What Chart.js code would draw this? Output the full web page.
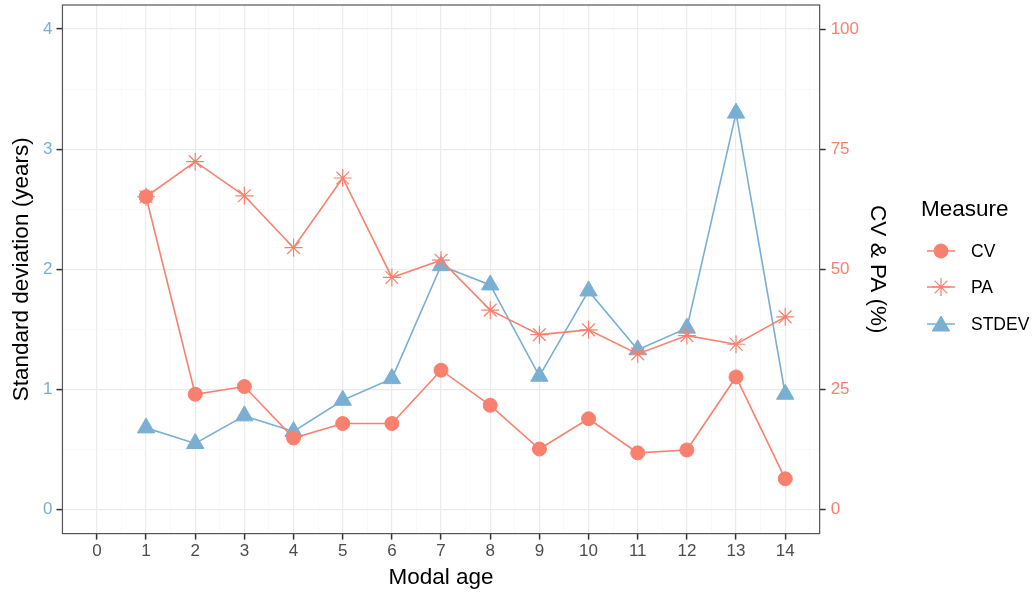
<!DOCTYPE html>
<html>
<head>
<meta charset="utf-8">
<script src="https://cdn.jsdelivr.net/npm/chart.js@4/dist/chart.umd.min.js"></script>
<style>
  html, body { margin: 0; padding: 0; background: #fff; }
  #wrap { width: 1034px; height: 593px; position: relative; }
</style>
</head>
<body>
<div id="wrap"><canvas id="js-line-chart"></canvas></div>
<script>
// Chart data
const ages = [1, 2, 3, 4, 5, 6, 7, 8, 9, 10, 11, 12, 13, 14];
const cvValues = [65.1, 24.0, 25.6, 14.9, 17.9, 17.9, 29.0, 21.7, 12.6, 18.9, 11.8, 12.4, 27.6, 6.4];
const paValues = [65.1, 72.4, 65.3, 54.5, 69.0, 48.3, 51.9, 41.5, 36.4, 37.4, 32.4, 36.2, 34.4, 40.1];
const stdevValues = [0.68, 0.55, 0.78, 0.65, 0.91, 1.09, 2.03, 1.87, 1.11, 1.82, 1.33, 1.51, 3.30, 0.96];

// Tick values (minor ones carry no label)
const xTicks = [0, 0.5, 1, 1.5, 2, 2.5, 3, 3.5, 4, 4.5, 5, 5.5, 6, 6.5, 7, 7.5, 8, 8.5, 9, 9.5, 10, 10.5, 11, 11.5, 12, 12.5, 13, 13.5, 14, 14.5];
const sdTicks = [0, 0.5, 1, 1.5, 2, 2.5, 3, 3.5, 4];
const pctTicks = [0, 25, 50, 75, 100];

// Colors
const salmon = '#F9806F';
const blue = '#7AAFD4';
const font = '"Liberation Sans", Arial, sans-serif';

const toPoints = values => values.map((v, i) => ({ x: ages[i], y: v }));
const isMajor = v => Number.isInteger(v);
const setTicks = list => axis => { axis.ticks = list.map(v => ({ value: v })); };
// labels sit well inside the panel, so no extra room is needed above/below
const noPad = axis => { axis.paddingTop = 0; axis.paddingBottom = 0; };

const gridColor = ctx => (ctx.tick && isMajor(ctx.tick.value) ? '#EBEBEB' : '#F6F6F6');
const gridWidth = ctx => (ctx.tick && isMajor(ctx.tick.value) ? 1.2 : 0.7);
const tickColor = ctx => (ctx.tick && isMajor(ctx.tick.value) ? '#333333' : 'rgba(0,0,0,0)');

// Panel border drawn over the plot, plus a ggplot-like legend at the right
const panelAndLegend = {
  id: 'panelAndLegend',
  afterDraw(chart) {
    const { ctx, chartArea } = chart;
    ctx.save();
    ctx.strokeStyle = '#555555';
    ctx.lineWidth = 1.2;
    ctx.strokeRect(chartArea.left, chartArea.top, chartArea.right - chartArea.left, chartArea.bottom - chartArea.top);

    ctx.fillStyle = '#000';
    ctx.textBaseline = 'middle';
    ctx.textAlign = 'left';
    ctx.font = '22.5px ' + font;
    ctx.fillText('Measure', 921, 210);

    const entries = [
      { label: 'CV', color: salmon, style: 'circle', radius: 7, width: 1, y: 251 },
      { label: 'PA', color: salmon, style: 'star', radius: 9, width: 1.2, y: 287 },
      { label: 'STDEV', color: blue, style: 'triangle', radius: 10, width: 1, y: 324 },
    ];
    entries.forEach(e => {
      ctx.strokeStyle = e.color;
      ctx.lineWidth = 1.5;
      ctx.beginPath();
      ctx.moveTo(927, e.y);
      ctx.lineTo(955, e.y);
      ctx.stroke();
      ctx.fillStyle = e.color;
      ctx.strokeStyle = e.color;
      ctx.lineWidth = e.width;
      Chart.helpers.drawPoint(ctx, { pointStyle: e.style, radius: e.radius, borderWidth: e.width, rotation: 0 }, 941, e.style === 'triangle' ? e.y + 2 : e.y);
      ctx.fillStyle = '#000';
      ctx.font = '17.5px ' + font;
      ctx.fillText(e.label, 971, e.y + 1);
    });
    ctx.restore();
  },
};

const lineContext = document.getElementById('js-line-chart').getContext('2d');

const config = {
  type: 'line',
  data: {
    datasets: [
      {
        label: 'CV',
        data: toPoints(cvValues),
        yAxisID: 'y1',
        borderColor: salmon,
        backgroundColor: salmon,
        borderWidth: 1.6,
        pointStyle: 'circle',
        pointRadius: 7,
        pointBorderWidth: 1,
      },
      {
        label: 'PA',
        data: toPoints(paValues),
        yAxisID: 'y1',
        borderColor: salmon,
        backgroundColor: salmon,
        borderWidth: 1.6,
        pointStyle: 'star',
        pointRadius: 9,
        pointBorderWidth: 1.2,
      },
      {
        label: 'STDEV',
        data: toPoints(stdevValues),
        yAxisID: 'y',
        borderColor: blue,
        backgroundColor: blue,
        borderWidth: 1.6,
        pointStyle: 'triangle',
        pointRadius: 10,
        pointBorderWidth: 1,
      },
    ],
  },
  options: {
    responsive: true,
    maintainAspectRatio: false,
    animation: false,
    layout: { autoPadding: false, padding: { left: 8, right: 143, top: 5, bottom: 2 } },
    plugins: {
      legend: { display: false },
      tooltip: { enabled: false },
    },
    scales: {
      x: {
        type: 'linear',
        min: -0.7,
        max: 14.7,
        afterBuildTicks: setTicks(xTicks),
        border: { display: false },
        grid: { color: gridColor, lineWidth: gridWidth, tickColor: tickColor, tickLength: 6, tickWidth: 1.5 },
        ticks: {
          autoSkip: false,
          maxRotation: 0,
          padding: 2,
          color: '#4D4D4D',
          font: { family: font, size: 17 },
          callback: v => (isMajor(v) ? v : ''),
        },
        title: { display: true, text: 'Modal age', color: '#000', font: { family: font, size: 22.5 }, padding: { top: 0, bottom: 0 } },
      },
      y: {
        position: 'left',
        min: -0.2,
        max: 4.2,
        afterBuildTicks: setTicks(sdTicks),
        afterFit: noPad,
        border: { display: false },
        grid: { color: gridColor, lineWidth: gridWidth, tickColor: tickColor, tickLength: 6, tickWidth: 1.5 },
        ticks: {
          autoSkip: false,
          padding: 4,
          color: blue,
          font: { family: font, size: 17 },
          callback: v => (isMajor(v) ? v : ''),
        },
        title: { display: true, text: 'Standard deviation (years)', color: '#000', font: { family: font, size: 22.5 }, padding: { top: 0, bottom: 4 } },
      },
      y1: {
        position: 'right',
        min: -5,
        max: 105,
        afterBuildTicks: setTicks(pctTicks),
        afterFit: noPad,
        border: { display: false },
        grid: { drawOnChartArea: false, tickColor: '#333333', tickLength: 6, tickWidth: 1.5 },
        ticks: {
          autoSkip: false,
          padding: 5,
          color: salmon,
          font: { family: font, size: 17 },
        },
        title: { display: true, text: 'CV & PA (%)', color: '#000', font: { family: font, size: 22.5 }, padding: { top: 0, bottom: 0 } },
      },
    },
  },
  plugins: [panelAndLegend],
};

const newLineChart = new Chart(lineContext, config);
</script>
</body>
</html>
